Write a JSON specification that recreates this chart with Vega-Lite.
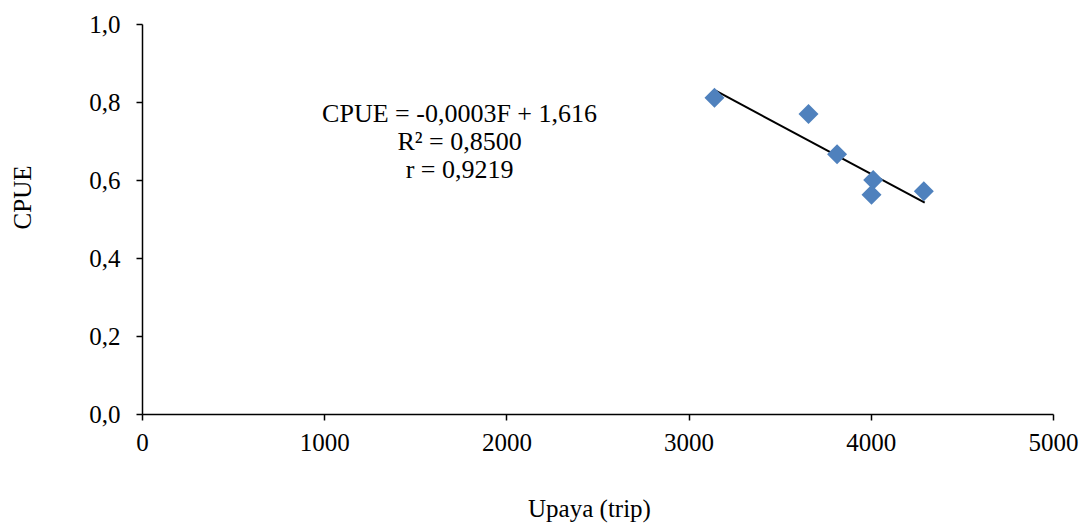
{
  "$schema": "https://vega.github.io/schema/vega-lite/v6.json",
  "autosize": {"type": "none"},
  "padding": {"left": 142, "top": 24, "right": 35, "bottom": 113},
  "width": 911,
  "height": 390,
  "background": "white",
  "config": {
    "view": {"stroke": null},
    "font": "Liberation Serif",
    "axis": {
      "grid": false,
      "labelFlush": false,
      "domainColor": "#000000",
      "domainWidth": 1.5,
      "tickColor": "#000000",
      "tickSize": 6,
      "tickWidth": 1.5,
      "labelFont": "Liberation Serif",
      "labelFontSize": 25,
      "labelColor": "#000000",
      "titleFont": "Liberation Serif",
      "titleFontSize": 25,
      "titleFontWeight": "normal",
      "titleColor": "#000000"
    }
  },
  "datasets": {
    "points": [
      {"upaya": 3142, "cpue": 0.811},
      {"upaya": 3658, "cpue": 0.769},
      {"upaya": 3815, "cpue": 0.666},
      {"upaya": 4013, "cpue": 0.600},
      {"upaya": 4004, "cpue": 0.562},
      {"upaya": 4291, "cpue": 0.571}
    ],
    "trend": [
      {"upaya": 3148, "cpue": 0.829},
      {"upaya": 4296, "cpue": 0.542}
    ],
    "notes": [
      {"upaya": 1743, "cpue": 0.749, "label": "CPUE = -0,0003F + 1,616"},
      {"upaya": 1743, "cpue": 0.677, "label": "R² = 0,8500"},
      {"upaya": 1743, "cpue": 0.605, "label": "r = 0,9219"}
    ]
  },
  "layer": [
    {
      "data": {"name": "trend"},
      "mark": {"type": "line", "color": "#000000", "strokeWidth": 2},
      "encoding": {
        "x": {"field": "upaya", "type": "quantitative",
          "scale": {"domain": [0, 5000], "nice": false},
          "axis": {"values": [0, 1000, 2000, 3000, 4000, 5000], "format": "d", "labelPadding": 10, "title": "Upaya (trip)", "titlePadding": 41, "titleX": 447}},
        "y": {"field": "cpue", "type": "quantitative",
          "scale": {"domain": [0, 1], "nice": false},
          "axis": {"values": [0, 0.2, 0.4, 0.6, 0.8, 1.0], "labelExpr": "replace(format(datum.value, '.1f'), '.', ',')", "labelPadding": 16, "title": "CPUE", "titlePadding": 53, "titleY": 173}}
      }
    },
    {
      "data": {"name": "points"},
      "mark": {"type": "point", "shape": "diamond", "filled": true, "color": "#4F81BD", "opacity": 1, "size": 400},
      "encoding": {
        "x": {"field": "upaya", "type": "quantitative"},
        "y": {"field": "cpue", "type": "quantitative"}
      }
    },
    {
      "data": {"name": "notes"},
      "mark": {"type": "text", "font": "Liberation Serif", "fontSize": 26, "color": "#000000", "align": "center", "baseline": "alphabetic"},
      "encoding": {
        "x": {"field": "upaya", "type": "quantitative"},
        "y": {"field": "cpue", "type": "quantitative"},
        "text": {"field": "label"}
      }
    }
  ]
}
